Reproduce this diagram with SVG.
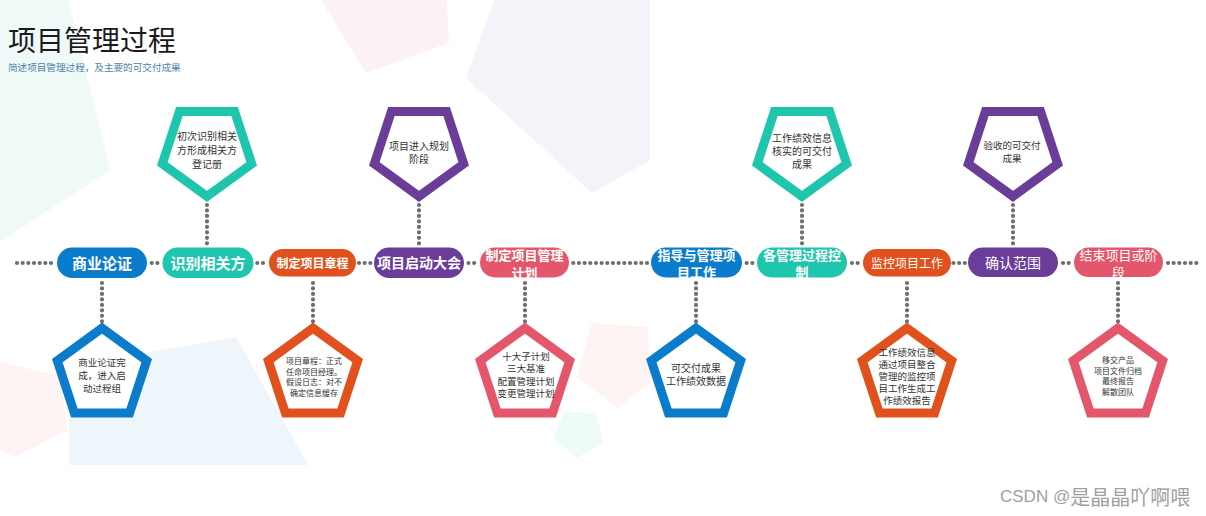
<svg xmlns="http://www.w3.org/2000/svg" xmlns:xlink="http://www.w3.org/1999/xlink" width="1206" height="516" viewBox="0 0 1206 516">
<defs>
<style>
.bg{stroke:none}
.pent{fill:#ffffff;stroke-width:9;stroke-linejoin:miter}
.blue{fill:#0b7bcb}.teal{fill:#1fc6ae}.orange{fill:#e0511d}.purple{fill:#6a3d99}.pink{fill:#e4566b}
.sblue{stroke:#0b7bcb}.steal{stroke:#1fc6ae}.sorange{stroke:#e0511d}.spurple{stroke:#6a3d99}.spink{stroke:#e4566b}
.pt{font-family:"Noto Sans CJK SC","Noto Sans",sans-serif;fill:#ffffff;text-anchor:middle;dominant-baseline:central}
.b{font-weight:bold}
.nt{font-family:"Noto Sans CJK SC","Noto Sans",sans-serif;fill:#333333;text-anchor:middle;dominant-baseline:central;font-size:10px}
.s8{font-size:8px}
.s95{font-size:9.5px}
.dots{stroke:#6e6e6e;stroke-width:4.2;stroke-linecap:round;fill:none}
.h{stroke-dasharray:0 5.67}
.v{stroke-dasharray:0 5.47}
</style>
<polygon id="pd" points="0,47 44.7,14.5 27.6,-38 -27.6,-38 -44.7,14.5"/>
<polygon id="pu" points="0,-47 44.7,-14.5 27.6,38 -27.6,38 -44.7,-14.5"/>
</defs>
<rect width="1206" height="516" fill="#ffffff"/>
<g id="background">
<polygon class="bg" fill="#effaf8" points="0,0 68,0 110,170 0,242"/>
<polygon class="bg" fill="#fdf2f3" points="321,0 447,0 449,43 366,73"/>
<polygon class="bg" fill="#f4f3f9" points="494,0 650,0 650,160 592,193 466,78"/>
<polygon class="bg" fill="#fdf3f2" points="0,362 60,376 67,430 15,457 0,450"/>
<polygon class="bg" fill="#eef5fb" points="69,367 236,337 308,465 69,465"/>
<polygon class="bg" fill="#fdf3f3" points="592,323 648,327 650,382 618,408 577,377"/>
<polygon class="bg" fill="#eefaf7" points="564,412 596,413 603,442 577,458 553,437"/>
</g>
<g id="title">
<text x="8" y="38.5" font-family="Noto Sans CJK SC,sans-serif" font-size="28" fill="#1a1a1a" dominant-baseline="central">项目管理过程</text>
<text x="8" y="66.5" font-family="Noto Sans CJK SC,sans-serif" font-size="9.6" fill="#4f7fa6" dominant-baseline="central">简述项目管理过程，及主要的可交付成果</text>
</g>
<g id="connectors">
<line class="dots h" x1="17" y1="263" x2="51.1" y2="263"/>
<line class="dots h" x1="151.7" y1="263" x2="157.5" y2="263"/>
<line class="dots h" x1="257.3" y1="263" x2="263.1" y2="263"/>
<line class="dots h" x1="359" y1="263" x2="370.5" y2="263"/>
<line class="dots h" x1="468.5" y1="263" x2="474.3" y2="263"/>
<line class="dots h" x1="573.3" y1="263" x2="647.1" y2="263"/>
<line class="dots h" x1="746.7" y1="263" x2="752.5" y2="263"/>
<line class="dots h" x1="852" y1="263" x2="857.8" y2="263"/>
<line class="dots h" x1="953.5" y1="263" x2="965" y2="263"/>
<line class="dots h" x1="1063" y1="263" x2="1068.8" y2="263"/>
<line class="dots h" x1="1168" y1="263" x2="1196.5" y2="263"/>
<line class="dots v" x1="207" y1="205" x2="207" y2="243.4"/>
<line class="dots v" x1="419" y1="205" x2="419" y2="243.4"/>
<line class="dots v" x1="802" y1="205" x2="802" y2="243.4"/>
<line class="dots v" x1="1013" y1="205" x2="1013" y2="243.4"/>
<line class="dots v" x1="102" y1="283" x2="102" y2="321.4"/>
<line class="dots v" x1="313" y1="283" x2="313" y2="321.4"/>
<line class="dots v" x1="525" y1="283" x2="525" y2="321.4"/>
<line class="dots v" x1="696" y1="283" x2="696" y2="321.4"/>
<line class="dots v" x1="907" y1="283" x2="907" y2="321.4"/>
<line class="dots v" x1="1118" y1="283" x2="1118" y2="321.4"/>
</g>
<g id="step-1">
<rect class="blue" x="57" y="247.5" width="90" height="30.5" rx="15.25"/>
<text class="pt b" x="102" y="262" font-size="15">商业论证</text>
</g>
<g id="step-2">
<rect class="teal" x="162.5" y="247.5" width="91" height="30.5" rx="15.25"/>
<text class="pt b" x="208" y="262" font-size="15">识别相关方</text>
</g>
<g id="step-3">
<rect class="orange" x="269" y="249" width="87" height="27.5" rx="13.75"/>
<text class="pt b" x="312.5" y="262.5" font-size="12">制定项目章程</text>
</g>
<g id="step-4">
<rect class="purple" x="374" y="247.5" width="90" height="30.5" rx="15.25"/>
<text class="pt b" x="419" y="262" font-size="14">项目启动大会</text>
</g>
<g id="step-5">
<rect class="pink" x="480" y="247.5" width="89" height="30" rx="15"/>
<text class="pt b" x="524.5" font-size="13"><tspan x="524.5" y="254">制定项目管理</tspan><tspan x="524.5" y="271.5">计划</tspan></text>
</g>
<g id="step-6">
<rect class="blue" x="651" y="247.5" width="91" height="30" rx="15"/>
<text class="pt b" x="696.5" font-size="13"><tspan x="696.5" y="253.5">指导与管理项</tspan><tspan x="696.5" y="271">目工作</tspan></text>
</g>
<g id="step-7">
<rect class="teal" x="757" y="247.5" width="90" height="30" rx="15"/>
<text class="pt b" x="802" font-size="13"><tspan x="802" y="253.5">各管理过程控</tspan><tspan x="802" y="271">制</tspan></text>
</g>
<g id="step-8">
<rect class="orange" x="863" y="249" width="88" height="27.5" rx="13.75"/>
<text class="pt" x="907" y="262.5" font-size="12">监控项目工作</text>
</g>
<g id="step-9">
<rect class="purple" x="968" y="247.5" width="90" height="29.5" rx="14.75"/>
<text class="pt" x="1013" y="262" font-size="14">确认范围</text>
</g>
<g id="step-10">
<rect class="pink" x="1074" y="247.5" width="89" height="29.5" rx="14.75"/>
<text class="pt" x="1118.5" font-size="13"><tspan x="1118.5" y="253.5">结束项目或阶</tspan><tspan x="1118.5" y="271">段</tspan></text>
</g>
<g id="note-identify">
<use xlink:href="#pd" class="pent steal" x="207" y="149.4"/>
<text class="nt"><tspan x="207" y="135">初次识别相关</tspan><tspan x="207" y="148.8">方形成相关方</tspan><tspan x="207" y="162.5">登记册</tspan></text>
</g>
<g id="note-kickoff">
<use xlink:href="#pd" class="pent spurple" x="419" y="149.4"/>
<text class="nt"><tspan x="419" y="145">项目进入规划</tspan><tspan x="419" y="158">阶段</tspan></text>
</g>
<g id="note-control">
<use xlink:href="#pd" class="pent steal" x="802" y="149.4"/>
<text class="nt"><tspan x="802" y="136.5">工作绩效信息</tspan><tspan x="802" y="150">核实的可交付</tspan><tspan x="802" y="163">成果</tspan></text>
</g>
<g id="note-scope">
<use xlink:href="#pd" class="pent spurple" x="1013" y="149.4"/>
<text class="nt s95"><tspan x="1012" y="144.5">验收的可交付</tspan><tspan x="1012" y="158">成果</tspan></text>
</g>
<g id="note-business">
<use xlink:href="#pu" class="pent sblue" x="102" y="375.1"/>
<text class="nt s95"><tspan x="102" y="362">商业论证完</tspan><tspan x="102" y="375">成，进入启</tspan><tspan x="102" y="388">动过程组</tspan></text>
</g>
<g id="note-charter">
<use xlink:href="#pu" class="pent sorange" x="313" y="375.1"/>
<text class="nt s8"><tspan x="314" y="360">项目章程：正式</tspan><tspan x="314" y="370.5">任命项目经理。</tspan><tspan x="314" y="381">假设日志：对不</tspan><tspan x="314" y="391.5">确定信息缓存</tspan></text>
</g>
<g id="note-plan">
<use xlink:href="#pu" class="pent spink" x="525" y="375.1"/>
<text class="nt s95"><tspan x="526" y="355.5">十大子计划</tspan><tspan x="526" y="368">三大基准</tspan><tspan x="526" y="380.5">配置管理计划</tspan><tspan x="526" y="392.5">变更管理计划</tspan></text>
</g>
<g id="note-direct">
<use xlink:href="#pu" class="pent sblue" x="696" y="375.1"/>
<text class="nt"><tspan x="696" y="367">可交付成果</tspan><tspan x="696" y="380">工作绩效数据</tspan></text>
</g>
<g id="note-monitor">
<use xlink:href="#pu" class="pent sorange" x="907" y="375.1"/>
<text class="nt s95"><tspan x="907" y="351.5">工作绩效信息</tspan><tspan x="907" y="363.5">通过项目整合</tspan><tspan x="907" y="375.5">管理的监控项</tspan><tspan x="907" y="387.5">目工作生成工</tspan><tspan x="907" y="399.5">作绩效报告</tspan></text>
</g>
<g id="note-close">
<use xlink:href="#pu" class="pent spink" x="1118" y="375.1"/>
<text class="nt s8"><tspan x="1118" y="359">移交产品</tspan><tspan x="1118" y="369.5">项目文件归档</tspan><tspan x="1118" y="380">最终报告</tspan><tspan x="1118" y="390.5">解散团队</tspan></text>
</g>
<g id="watermark">
<text x="1000" y="496" fill="#a0a0a0" dominant-baseline="central"><tspan font-family="Liberation Sans,sans-serif" font-size="17">CSDN @</tspan><tspan font-family="Noto Sans CJK SC,sans-serif" font-size="20">是晶晶吖啊喂</tspan></text>
</g>
</svg>
